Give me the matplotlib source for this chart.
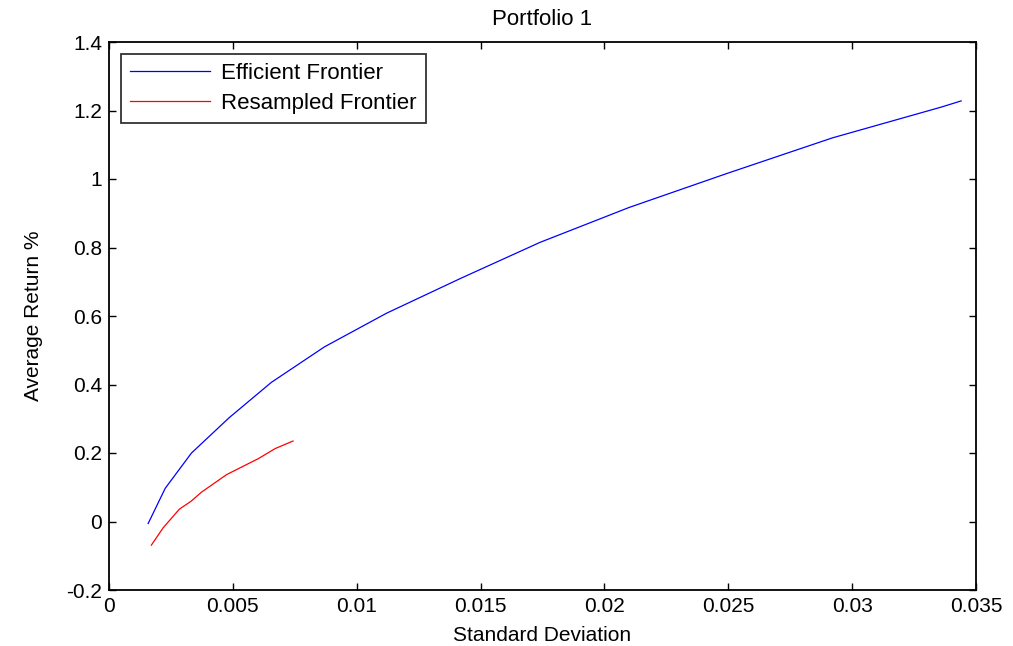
import matplotlib.pyplot as plt

plt.rcParams['font.family'] = ['Liberation Sans', 'DejaVu Sans']

# frontier data: standard deviation vs average return (%)
eff_std = [0.00158, 0.00227, 0.00333, 0.00485, 0.00655, 0.0087, 0.0112,
           0.0142, 0.0174, 0.0210, 0.0249, 0.0292, 0.0336, 0.0344]
eff_ret = [-0.006, 0.097, 0.2, 0.303, 0.406, 0.51, 0.608,
           0.71, 0.815, 0.917, 1.015, 1.12, 1.21, 1.228]

res_std = [0.00171, 0.00219, 0.00284, 0.00331, 0.00374, 0.00475, 0.00604, 0.00671, 0.00743]
res_ret = [-0.069, -0.018, 0.036, 0.059, 0.086, 0.137, 0.184, 0.213, 0.235]

xticks = [0, 0.005, 0.01, 0.015, 0.02, 0.025, 0.03, 0.035]
xticklabels = ['0', '0.005', '0.01', '0.015', '0.02', '0.025', '0.03', '0.035']
yticks = [-0.2, 0, 0.2, 0.4, 0.6, 0.8, 1, 1.2, 1.4]
yticklabels = ['-0.2', '0', '0.2', '0.4', '0.6', '0.8', '1', '1.2', '1.4']

fig = plt.figure(figsize=(10.13, 6.46), dpi=100)
ax = fig.add_axes([109 / 1013, 1 - 590 / 646, (976 - 109) / 1013, (590 - 42) / 646])

ax.plot(eff_std, eff_ret, color='#0000ff', linewidth=0.9, label='Efficient Frontier')
ax.plot(res_std, res_ret, color='#ff0000', linewidth=0.9, label='Resampled Frontier')

ax.set_xlim(0, 0.035)
ax.set_ylim(-0.2, 1.4)
ax.set_xticks(xticks)
ax.set_xticklabels(xticklabels)
ax.set_yticks(yticks)
ax.set_yticklabels(yticklabels)
ax.tick_params(direction='in', top=True, right=True, length=5, width=1,
               labelsize=15, pad=5)
for s in ax.spines.values():
    s.set_linewidth(1.3)

ax.set_xlabel('Standard Deviation', fontsize=15, labelpad=7)
ax.set_ylabel('Average Return %', fontsize=15, labelpad=17)
ax.set_title('Portfolio 1', fontsize=16, pad=12)

leg = ax.legend(loc='upper left', fontsize=16, frameon=True, fancybox=False,
                edgecolor='black', handlelength=3.6, borderaxespad=0.55,
                borderpad=0.4, labelspacing=0.4, handletextpad=0.5)
leg.get_frame().set_linewidth(1.3)

fig.savefig('out.png', dpi=100, facecolor='white')
